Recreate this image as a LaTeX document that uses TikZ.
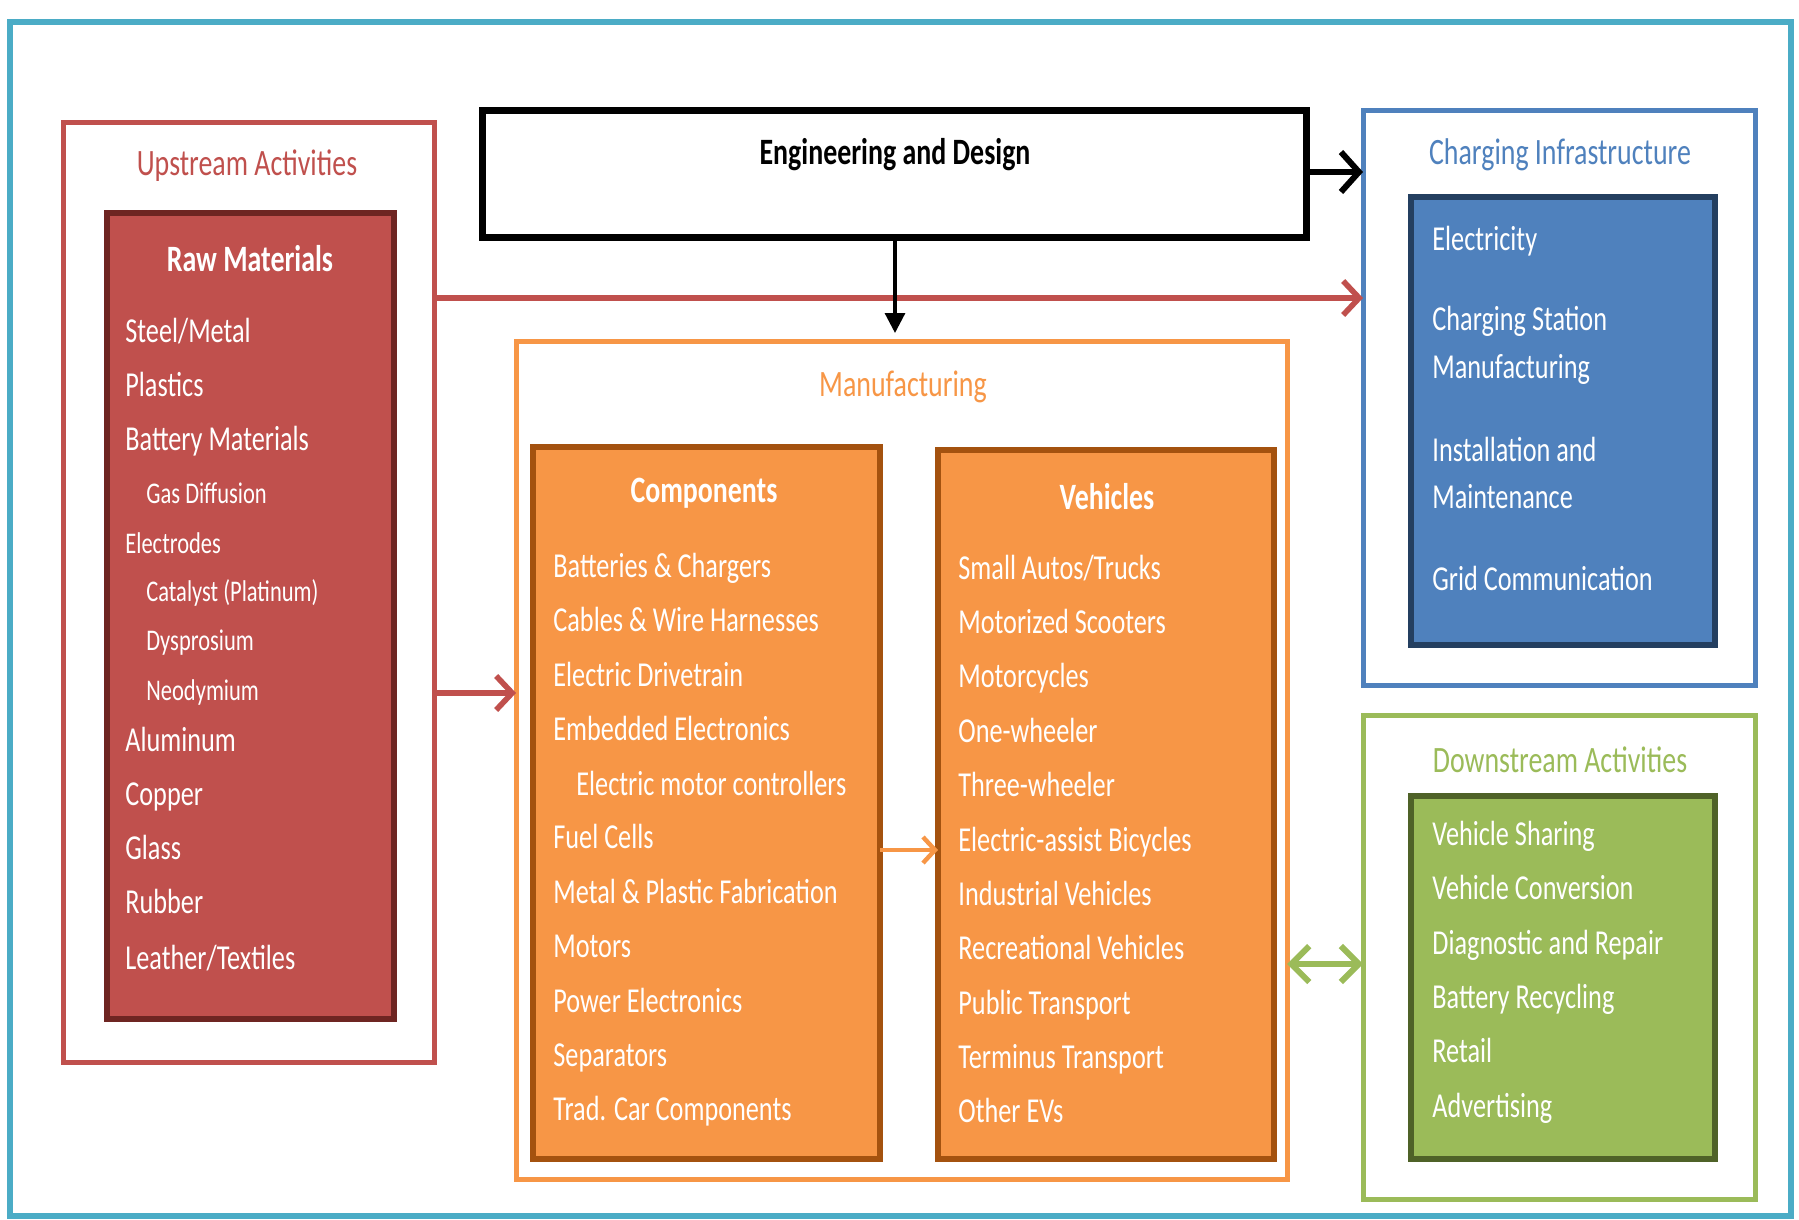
\documentclass[tikz,border=0pt]{standalone}
\usepackage{fontspec}
\setmainfont[FakeStretch=0.75]{Carlito}
\usetikzlibrary{arrows.meta}
\definecolor{frameteal}{HTML}{4BACC6}
\definecolor{upred}{HTML}{C0504D}
\definecolor{updark}{HTML}{6E2522}
\definecolor{mforange}{HTML}{F79646}
\definecolor{mfdark}{HTML}{A4520F}
\definecolor{chblue}{HTML}{4F81BD}
\definecolor{chdark}{HTML}{243F60}
\definecolor{dngreen}{HTML}{9BBB59}
\definecolor{dndark}{HTML}{4F6228}
\newcommand\mainfs{\fontsize{17.5}{21}\selectfont}
\newcommand\titlefs{\fontsize{18.6}{22}\selectfont}
\newcommand\smallfs{\fontsize{15}{18}\selectfont}
\tikzset{
  outerbox/.style={rectangle, inner sep=0pt, outer sep=0pt, line width=2.5pt, fill=white},
  innerbox/.style={rectangle, inner sep=0pt, outer sep=0pt, line width=3pt},
  boxtitle/.style={inner sep=0pt, font=\titlefs\bfseries, text=white},
  grouptitle/.style={inner sep=0pt, font=\titlefs},
  item/.style={anchor=west, inner sep=0pt, text=white, font=\mainfs, text height=12pt, text depth=3pt},
  smallitem/.style={item, font=\smallfs},
  chevron/.style={-{Straight Barb[length=8pt,width=17pt,line width=2.8pt]}, line width=2.8pt, line join=round},
}
\begin{document}
\begin{tikzpicture}[x=0.5pt,y=-0.5pt]
\useasboundingbox (0,0) rectangle (1799,1220);
% outer frame
\draw[frameteal, line width=3pt] (10,22) rectangle (1791,1216);

% Upstream
\node[outerbox, draw=upred, minimum width=185.5pt, minimum height=469.5pt] (up) at (248.5,592.5) {};
\node[grouptitle, text=upred] (uptitle) at (247,166) {Upstream Activities};
\node[innerbox, draw=updark, fill=upred, minimum width=143.5pt, minimum height=403pt] (raw) at (250.5,616) {};
\node[boxtitle] (rawtitle) at (250,259) {Raw Materials};
\node[item] (r1) at (125,333) {Steel/Metal};
\node[item] (r2) at (125,387) {Plastics};
\node[item] (r3) at (125,441) {Battery Materials};
\node[smallitem] (r4) at (146,494) {Gas Diffusion};
\node[smallitem] (r5) at (125,544) {Electrodes};
\node[smallitem] (r6) at (146,592) {Catalyst (Platinum)};
\node[smallitem] (r7) at (146,641) {Dysprosium};
\node[smallitem] (r8) at (146,691) {Neodymium};
\node[item] (r9) at (125,742) {Aluminum};
\node[item] (r10) at (125,796) {Copper};
\node[item] (r11) at (125,850) {Glass};
\node[item] (r12) at (125,904) {Rubber};
\node[item] (r13) at (125,960) {Leather/Textiles};

% Engineering and Design
\node[rectangle, draw=black, line width=3.5pt, fill=white, inner sep=0pt, minimum width=412pt, minimum height=63pt] (ed) at (894,174) {};
\node[inner sep=0pt, font=\titlefs\bfseries] (edtitle) at (895,155) {Engineering and Design};

% Manufacturing
\node[outerbox, draw=mforange, minimum width=385.5pt, minimum height=419pt] (mf) at (901.5,760) {};
\node[grouptitle, text=mforange] (mftitle) at (903,387) {Manufacturing};
\node[innerbox, draw=mfdark, fill=mforange, minimum width=173.5pt, minimum height=356pt] (comp) at (706.5,803) {};
\node[boxtitle] (comptitle) at (704,493) {Components};
\node[item] (c1) at (553,568) {Batteries \& Chargers};
\node[item] (c2) at (553,622) {Cables \& Wire Harnesses};
\node[item] (c3) at (553,677) {Electric Drivetrain};
\node[item] (c4) at (553,731) {Embedded Electronics};
\node[item] (c5) at (576,786) {Electric motor controllers};
\node[item] (c6) at (553,839) {Fuel Cells};
\node[item] (c7) at (553,894) {Metal \& Plastic Fabrication};
\node[item] (c8) at (553,948) {Motors};
\node[item] (c9) at (553,1003) {Power Electronics};
\node[item] (c10) at (553,1057) {Separators};
\node[item] (c11) at (553,1111) {Trad. Car Components};

\node[innerbox, draw=mfdark, fill=mforange, minimum width=168pt, minimum height=354.5pt] (veh) at (1106,804.5) {};
\node[boxtitle] (vehtitle) at (1107,497) {Vehicles};
\node[item] (v1) at (958,570) {Small Autos/Trucks};
\node[item] (v2) at (958,624) {Motorized Scooters};
\node[item] (v3) at (958,678) {Motorcycles};
\node[item] (v4) at (958,733) {One-wheeler};
\node[item] (v5) at (958,787) {Three-wheeler};
\node[item] (v6) at (958,842) {Electric-assist Bicycles};
\node[item] (v7) at (958,896) {Industrial Vehicles};
\node[item] (v8) at (958,950) {Recreational Vehicles};
\node[item] (v9) at (958,1005) {Public Transport};
\node[item] (v10) at (958,1059) {Terminus Transport};
\node[item] (v11) at (958,1113) {Other EVs};

% Charging Infrastructure
\node[outerbox, draw=chblue, minimum width=196pt, minimum height=287pt] (ch) at (1559,398) {};
\node[grouptitle, text=chblue] (chtitle) at (1560,155) {Charging Infrastructure};
\node[innerbox, draw=chdark, fill=chblue, minimum width=152pt, minimum height=224pt] (chin) at (1563,421) {};
\node[item] (h1) at (1432,241) {Electricity};
\node[item] (h2) at (1432,321) {Charging Station};
\node[item] (h3) at (1432,369) {Manufacturing};
\node[item] (h4) at (1432,452) {Installation and};
\node[item] (h5) at (1432,499) {Maintenance};
\node[item] (h6) at (1432,581) {Grid Communication};

% Downstream
\node[outerbox, draw=dngreen, minimum width=196pt, minimum height=242pt] (dn) at (1559,957) {};
\node[grouptitle, text=dngreen] (dntitle) at (1560,760) {Downstream Activities};
\node[innerbox, draw=dndark, fill=dngreen, minimum width=152pt, minimum height=181.5pt] (dnin) at (1563,977.5) {};
\node[item] (d1) at (1432,836) {Vehicle Sharing};
\node[item] (d2) at (1432,890) {Vehicle Conversion};
\node[item] (d3) at (1432,945) {Diagnostic and Repair};
\node[item] (d4) at (1432,999) {Battery Recycling};
\node[item] (d5) at (1432,1053) {Retail};
\node[item] (d6) at (1432,1108) {Advertising};

% connectors
\coordinate (yed) at (0,172);
\coordinate (yred1) at (0,298);
\coordinate (yred2) at (0,693);
\coordinate (yor) at (0,850);
\coordinate (ygr) at (0,964);
\coordinate (xdown) at (895,0);

\draw[chevron, upred] (up.east |- yred1) -- (ch.west |- yred1);
\draw[chevron, upred] (up.east |- yred2) -- (mf.west |- yred2);
\draw[black, line width=3pt, line join=round, -{Straight Barb[length=9pt,width=20pt,line width=3pt]}] (ed.east |- yed) -- (ch.west |- yed);
\draw[black, line width=1.6pt, -{Triangle[length=10pt,width=10pt]}, shorten >=4pt] (ed.south -| xdown) -- (mf.north -| xdown);
\draw[mforange, line width=2.2pt, line join=round, -{Straight Barb[length=6pt,width=13pt,line width=2.2pt]}] (comp.east |- yor) -- (veh.west |- yor);
\draw[dngreen, line width=3pt, line join=round, {Straight Barb[length=9pt,width=18pt,line width=3pt]}-{Straight Barb[length=9pt,width=18pt,line width=3pt]}] (mf.east |- ygr) -- (dn.west |- ygr);
\end{tikzpicture}
\end{document}
